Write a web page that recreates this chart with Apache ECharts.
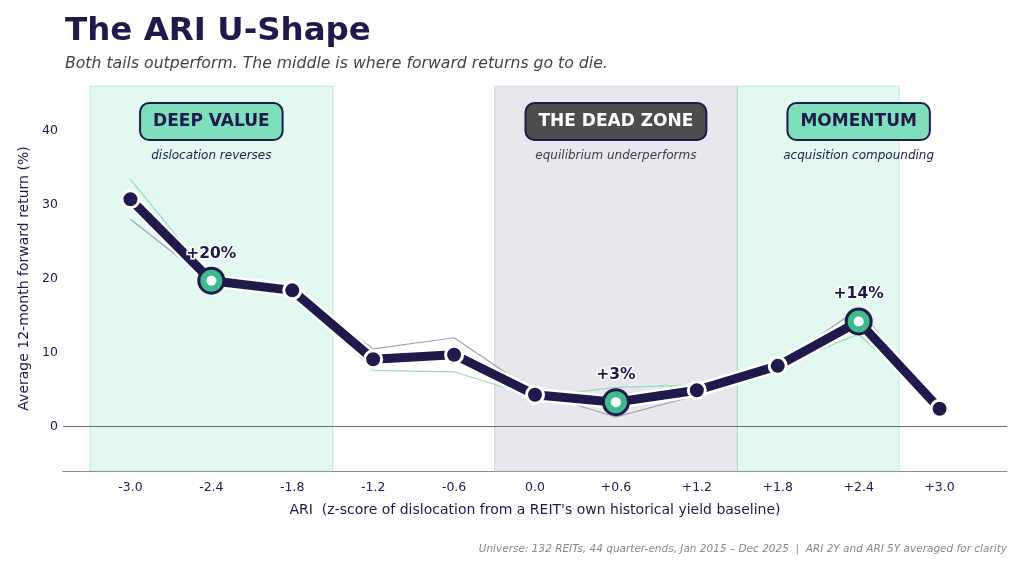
<!DOCTYPE html>
<html>
<head>
<meta charset="utf-8">
<title>The ARI U-Shape</title>
<script src="https://cdn.jsdelivr.net/npm/echarts@6/dist/echarts.min.js"></script>
<style>
  html, body { margin: 0; padding: 0; background: #ffffff; }
  #chart { width: 1024px; height: 569px; }
</style>
</head>
<body>
<div id="chart"></div>
<script>
// ARI buckets (z-score) and forward returns (%)
var ariBuckets = [-3.0, -2.4, -1.8, -1.2, -0.6, 0.0, 0.6, 1.2, 1.8, 2.4, 3.0];
var avgReturn  = [30.7, 19.7, 18.4, 9.1, 9.7, 4.3, 3.3, 4.9, 8.2, 14.2, 2.4];
var ari2yReturn = [33.4, 20.0, 18.6, 7.6, 7.4, 4.0, 5.3, 5.6, 8.0, 12.5, 2.2];
var ari5yReturn = [28.0, 19.4, 18.2, 10.5, 12.0, 4.6, 1.3, 4.2, 8.4, 15.9, 2.6];
var highlightBuckets = [-2.4, 0.6, 2.4];
var yTicks = [0, 10, 20, 30, 40];

// regimes: [from, to, title, caption, anchor, style]
var regimes = [
    [-3.3, -1.5, 'DEEP VALUE', 'dislocation reverses', -2.4, 'green'],
    [-0.3, 1.5, 'THE DEAD ZONE', 'equilibrium underperforms', 0.6, 'grey'],
    [1.5, 2.7, 'MOMENTUM', 'acquisition compounding', 2.4, 'green']
];

var NAVY = '#1e1a4b';
var FONT = '"DejaVu Sans"';

function pairs(ys) {
    return ariBuckets.map(function (x, i) { return [x, ys[i]]; });
}

var mainData = ariBuckets.map(function (x, i) {
    if (highlightBuckets.indexOf(x) >= 0) {
        return {
            value: [x, avgReturn[i]],
            symbolSize: 25,
            itemStyle: { color: '#3fba8c', borderColor: NAVY, borderWidth: 3 }
        };
    }
    return [x, avgReturn[i]];
});

var highlightData = ariBuckets.map(function (x, i) {
    return [x, avgReturn[i]];
}).filter(function (p) { return highlightBuckets.indexOf(p[0]) >= 0; });

var bandData = regimes.map(function (r) {
    var green = r[5] === 'green';
    return [
        { xAxis: r[0], itemStyle: {
            color: green ? 'rgba(125,223,187,0.22)' : '#e8e7ee',
            borderColor: green ? 'rgba(125,223,187,0.45)' : 'rgba(200,200,215,0.6)',
            borderWidth: 1 } },
        { xAxis: r[1] }
    ];
});

var boxPoints = regimes.map(function (r) {
    var green = r[5] === 'green';
    return {
        coord: [r[4], 41.2],
        symbolSize: 0,
        label: {
            show: true,
            position: 'inside',
            formatter: r[2],
            fontFamily: FONT,
            fontWeight: 'bold',
            fontSize: 17,
            color: green ? NAVY : '#ffffff',
            backgroundColor: green ? '#7ddfbb' : '#4d4d4d',
            borderColor: NAVY,
            borderWidth: 2,
            borderRadius: 8,
            padding: [10, 12, 8, 12]
        }
    };
});

var captionPoints = regimes.map(function (r) {
    var green = r[5] === 'green';
    return {
        coord: [r[4], 36.6],
        symbolSize: 0,
        label: {
            show: true,
            position: 'inside',
            formatter: r[3],
            fontFamily: FONT,
            fontStyle: 'italic',
            fontSize: 12,
            color: green ? '#25224d' : '#3d3d48'
        }
    };
});

var chart = echarts.init(document.getElementById('chart'));

var option = {
    backgroundColor: '#ffffff',
    animation: false,
    title: [
        {
            text: 'The ARI U-Shape',
            left: 60, top: 10,
            textStyle: { fontFamily: FONT, fontWeight: 'bold', fontSize: 32.5, color: NAVY }
        },
        {
            text: 'Both tails outperform. The middle is where forward returns go to die.',
            left: 60, top: 51,
            textStyle: { fontFamily: FONT, fontStyle: 'italic', fontWeight: 'normal', fontSize: 15.7, color: '#444444' }
        },
        {
            text: 'Universe: 132 REITs, 44 quarter-ends, Jan 2015 \u2013 Dec 2025  |  ARI 2Y and ARI 5Y averaged for clarity',
            right: 12, top: 539,
            textStyle: { fontFamily: FONT, fontStyle: 'italic', fontWeight: 'normal', fontSize: 10.5, color: '#888888' }
        }
    ],
    grid: { left: 63, right: 17, top: 86, bottom: 98 },
    xAxis: {
        type: 'value',
        min: -3.5,
        max: 3.5,
        name: 'ARI  (z-score of dislocation from a REIT\'s own historical yield baseline)',
        nameLocation: 'middle',
        nameGap: 32,
        nameTextStyle: { fontFamily: FONT, fontSize: 14, color: NAVY },
        axisLine: { show: true, onZero: false, lineStyle: { color: '#8a8a8a', width: 1 } },
        axisTick: { show: false },
        splitLine: { show: false },
        axisLabel: {
            customValues: ariBuckets,
            margin: 10,
            fontFamily: FONT,
            fontSize: 12.5,
            color: NAVY,
            formatter: function (v) { return (v > 0 ? '+' : '') + v.toFixed(1); }
        }
    },
    yAxis: {
        type: 'value',
        min: -6,
        max: 46,
        name: 'Average 12-month forward return (%)',
        nameLocation: 'middle',
        nameGap: 31,
        nameTextStyle: { fontFamily: FONT, fontSize: 14, color: NAVY },
        axisLine: { show: false },
        axisTick: { show: false },
        splitLine: { show: false },
        axisLabel: {
            customValues: yTicks,
            margin: 5,
            fontFamily: FONT,
            fontSize: 12.5,
            color: NAVY
        }
    },
    series: [
        {
            name: 'ARI 5Y',
            type: 'line',
            data: pairs(ari5yReturn),
            symbol: 'none',
            lineStyle: { color: '#a3a3b5', width: 1.2 },
            z: 3,
            markArea: { silent: true, data: bandData },
            markLine: {
                silent: true,
                symbol: 'none',
                label: { show: false },
                lineStyle: { color: '#6e6e6e', width: 1.2, type: 'solid' },
                data: [{ yAxis: 0 }]
            },
            markPoint: { silent: true, data: boxPoints.concat(captionPoints) }
        },
        {
            name: 'ARI 2Y',
            type: 'line',
            data: pairs(ari2yReturn),
            symbol: 'none',
            lineStyle: { color: '#93dcc0', width: 1.2 },
            z: 3
        },
        {
            name: 'halo',
            type: 'line',
            data: pairs(avgReturn),
            symbol: 'none',
            lineStyle: { color: '#ffffff', width: 14 },
            z: 4
        },
        {
            name: 'Average',
            type: 'line',
            data: mainData,
            symbol: 'circle',
            symbolSize: 17,
            showAllSymbol: true,
            lineStyle: { color: NAVY, width: 9, cap: 'round', join: 'round' },
            itemStyle: { color: NAVY, borderColor: '#ffffff', borderWidth: 3 },
            z: 5
        },
        {
            name: 'highlight',
            type: 'scatter',
            data: highlightData,
            symbol: 'circle',
            symbolSize: 10,
            itemStyle: { color: '#ffffff', opacity: 1 },
            z: 6,
            label: {
                show: true,
                position: 'top',
                distance: 14,
                fontFamily: FONT,
                fontWeight: 'bold',
                fontSize: 15.5,
                color: NAVY,
                textBorderColor: '#ffffff',
                textBorderWidth: 3,
                formatter: function (p) { return '+' + Math.round(p.value[1]) + '%'; }
            }
        }
    ]
};

chart.setOption(option);
</script>
</body>
</html>
